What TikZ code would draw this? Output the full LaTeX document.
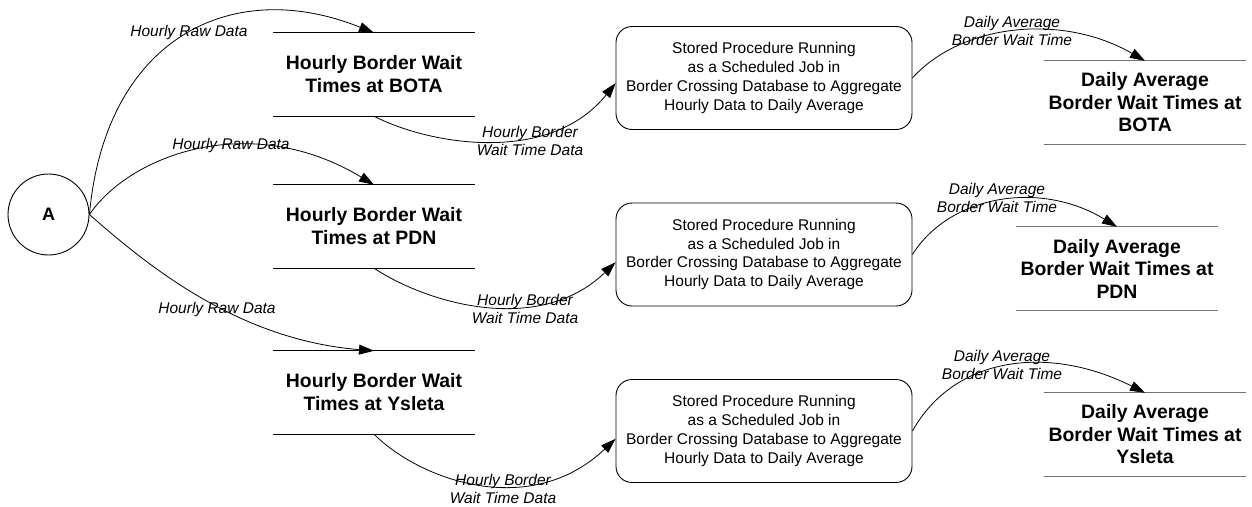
\documentclass[tikz,border=0pt]{standalone}
\usepackage{fontspec}
\setmainfont{Liberation Sans}
\usetikzlibrary{arrows.meta}
\begin{document}
\begin{tikzpicture}[x=1pt,y=-1pt,
  flow/.style={draw=black, line width=0.8pt, -{Triangle[length=15pt,width=10pt]}},
  lbl/.style={font=\fontsize{15.5}{18}\selectfont\itshape, align=center, inner sep=0pt},
  procbox/.style={draw, line width=0.9pt, rounded corners=16pt, minimum width=296pt, minimum height=103pt, align=center, font=\fontsize{15.5}{18.7}\selectfont, inner sep=0pt},
  hstore/.style={minimum width=202pt, minimum height=83pt, inner sep=0pt, align=center, font=\fontsize{19.4}{23}\selectfont\bfseries},
  dstore/.style={minimum width=202pt, minimum height=83pt, inner sep=0pt, align=center, font=\fontsize{19.4}{22.5}\selectfont\bfseries},
  hline/.style={draw=black, line width=0.9pt},
  dline/.style={draw=black!55, line width=1.3pt},
  ext/.style={draw, circle, line width=0.9pt, minimum size=81pt, inner sep=0pt, font=\fontsize{18}{20}\selectfont\bfseries}
]
\useasboundingbox (0,0) rectangle (1252,506);
\fill[white] (0,0) rectangle (1252,506);

% external entity
\node[ext] (A) at (48.5,214.5) {A};

% hourly stores
\node[hstore] (h1) at (374,74.5) {Hourly Border Wait\\Times at BOTA};
\node[hstore] (h2) at (374,226.5) {Hourly Border Wait\\Times at PDN};
\node[hstore] (h3) at (374,392.5) {Hourly Border Wait\\Times at Ysleta};
\foreach \n in {h1,h2,h3}{
  \draw[hline] (\n.north west) -- (\n.north east);
  \draw[hline] (\n.south west) -- (\n.south east);
}

% processes
\node[procbox] (p1) at (764,78) {Stored Procedure Running\\as a Scheduled Job in\\Border Crossing Database to Aggregate\\Hourly Data to Daily Average};
\node[procbox] (p2) at (764,254.5) {Stored Procedure Running\\as a Scheduled Job in\\Border Crossing Database to Aggregate\\Hourly Data to Daily Average};
\node[procbox] (p3) at (764,431) {Stored Procedure Running\\as a Scheduled Job in\\Border Crossing Database to Aggregate\\Hourly Data to Daily Average};

% daily stores
\node[dstore] (d1) at (1145,102.5) {Daily Average\\Border Wait Times at\\BOTA};
\node[dstore] (d2) at (1117,268.5) {Daily Average\\Border Wait Times at\\PDN};
\node[dstore] (d3) at (1145,434.5) {Daily Average\\Border Wait Times at\\Ysleta};
\foreach \n in {d1,d2,d3}{
  \draw[dline] (\n.north west) -- (\n.north east);
  \draw[dline] (\n.south west) -- (\n.south east);
}

% flows A -> hourly stores
\draw[flow] (A.east) .. controls (105,40) and (230,-25) .. (h1.north);
\draw[flow] (A.east) .. controls (130,155) and (250,110) .. (h2.north);
\draw[flow] (A.east) .. controls (150,268) and (240,340) .. (h3.north);

% flows hourly -> process
\draw[flow] (h1.south) .. controls (430,145) and (550,165) .. (p1.182);
\draw[flow] (h2.south) .. controls (430,305) and (540,335) .. (p2.183);
\draw[flow] (h3.south) .. controls (420,480) and (530,520) .. (p3.183);

% flows process -> daily
\draw[flow] (p1.east) .. controls (960,25) and (1060,12) .. (d1.north);
\draw[flow] (p2.east) .. controls (950,195) and (1040,180) .. (d2.north);
\draw[flow] (p3.east) .. controls (955,355) and (1050,345) .. (d3.north);

% labels
\node[lbl] (l1) at (189,32) {Hourly Raw Data};
\node[lbl] (l2) at (231,145) {Hourly Raw Data};
\node[lbl] (l3) at (217,309) {Hourly Raw Data};
\node[lbl] (l4) at (530,141) {Hourly Border\\Wait Time Data};
\node[lbl] (l5) at (525,309) {Hourly Border\\Wait Time Data};
\node[lbl] (l6) at (503,489) {Hourly Border\\Wait Time Data};
\node[lbl] (l7) at (1012,31) {Daily Average\\Border Wait Time};
\node[lbl] (l8) at (997,198) {Daily Average\\Border Wait Time};
\node[lbl] (l9) at (1002,365) {Daily Average\\Border Wait Time};
\end{tikzpicture}
\end{document}
